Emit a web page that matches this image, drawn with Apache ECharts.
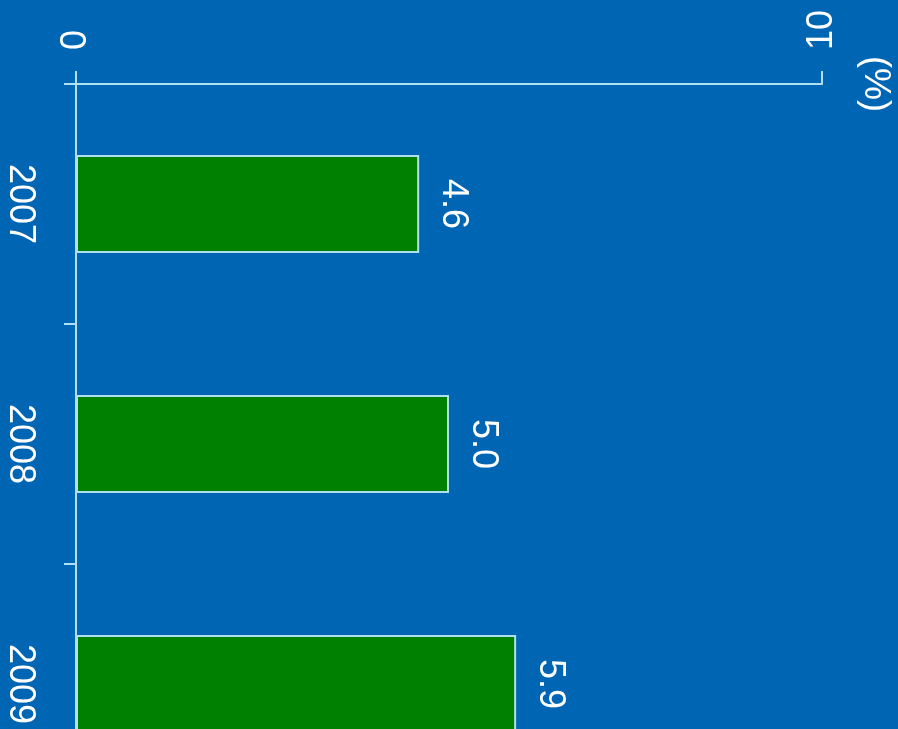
<!DOCTYPE html>
<html>
<head>
<meta charset="utf-8">
<script src="https://cdn.jsdelivr.net/npm/echarts@6/dist/echarts.min.js"></script>
<style>
  html, body { margin: 0; padding: 0; background: #0066b3; overflow: hidden; }
  #chart { width: 898px; height: 810px; }
</style>
</head>
<body>
<div id="chart"></div>
<script>
// Annual rate by year, in percent
const years = ['2007', '2008', '2009'];
const rates = [4.6, 5.0, 5.9];
const unitLabel = '(%)';

const lineColor = '#aee0f0';
const textColor = '#ffffff';
const fontFamily = '"Liberation Sans", Arial, sans-serif';

const chart = echarts.init(document.getElementById('chart'));
chart.setOption({
  backgroundColor: '#0066b3',
  animation: false,
  grid: { left: 76, top: 84, width: 746, height: 720, containLabel: false },
  xAxis: {
    type: 'value',
    position: 'top',
    min: 0,
    max: 10,
    interval: 10,
    axisLine: { show: true, lineStyle: { color: lineColor, width: 2 } },
    axisTick: { show: true, length: 13, lineStyle: { color: lineColor, width: 2 } },
    splitLine: { show: false },
    axisLabel: {
      rotate: -90,
      margin: 34,
      color: textColor,
      fontSize: 36,
      fontFamily: fontFamily
    }
  },
  yAxis: {
    type: 'category',
    data: years,
    inverse: true,
    axisLine: { show: true, lineStyle: { color: lineColor, width: 2 } },
    axisTick: { show: true, length: 12, alignWithLabel: false, lineStyle: { color: lineColor, width: 2 } },
    axisLabel: {
      rotate: -90,
      margin: 38,
      color: textColor,
      fontSize: 36,
      fontFamily: fontFamily
    }
  },
  series: [{
    type: 'bar',
    data: rates,
    barWidth: 98,
    itemStyle: { color: '#008000', borderColor: lineColor, borderWidth: 2 },
    label: {
      show: true,
      position: 'right',
      distance: 16,
      rotate: -90,
      align: 'center',
      verticalAlign: 'bottom',
      color: textColor,
      fontSize: 36,
      fontFamily: fontFamily,
      formatter: p => p.value.toFixed(1)
    }
  }],
  graphic: [{
    type: 'text',
    x: 875,
    y: 84,
    rotation: -Math.PI / 2,
    style: {
      text: unitLabel,
      fill: textColor,
      font: '36px ' + fontFamily,
      textAlign: 'center',
      textVerticalAlign: 'middle'
    }
  }]
});
</script>
</body>
</html>
